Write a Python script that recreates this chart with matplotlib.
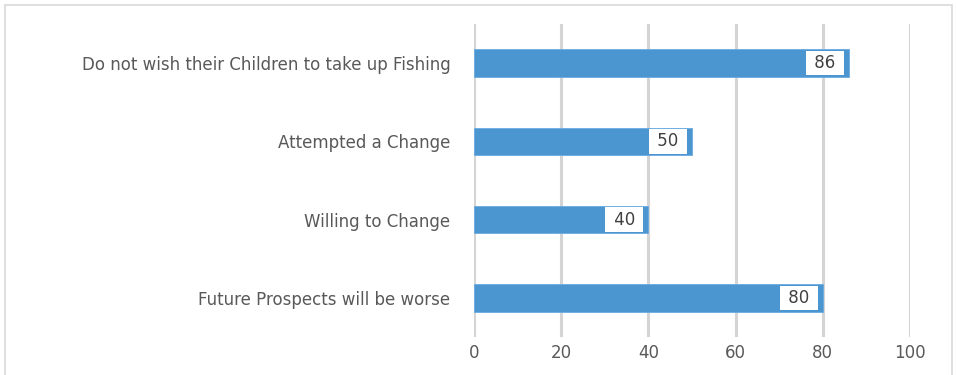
import matplotlib.pyplot as plt
from matplotlib.patches import Rectangle

# Survey responses (percent of respondents)
categories = ["Future Prospects will be worse", "Willing to Change",
              "Attempted a Change", "Do not wish their Children to take up Fishing"]
values = [80, 40, 50, 86]
ticks = [0, 20, 40, 60, 80, 100]

bar_color = "#4b96d1"
text_color = "#595959"
grid_color = "#d4d4d4"

fig = plt.figure(figsize=(9.56, 3.75), dpi=100)
ax = fig.add_axes([474 / 956, 0.101, (910 - 474) / 956, 0.835])

# light border around the chart area
fig.patches.append(Rectangle((5 / 956, -0.1), 947 / 956, 1.087, transform=fig.transFigure,
                             fill=False, edgecolor="#d9d9d9", linewidth=1.2))

ypos = range(len(categories))
ax.barh(ypos, values, height=0.35, color=bar_color, edgecolor="#6aaae0", linewidth=0.6, zorder=3)

for y, v in zip(ypos, values):
    ax.annotate(f" {v} ", xy=(v, y), xytext=(-6, 0), textcoords="offset points",
                ha="right", va="center", fontsize=12, color="#404040", zorder=4,
                bbox=dict(boxstyle="square,pad=0.2", facecolor="white", edgecolor="none"))

ax.set_xlim(0, 100)
ax.set_ylim(-0.5, len(categories) - 0.5)
ax.set_xticks(ticks)
ax.set_yticks(list(ypos))
ax.set_yticklabels(categories)
ax.tick_params(axis="both", length=0, labelsize=12, labelcolor=text_color)
ax.tick_params(axis="y", pad=17)
ax.tick_params(axis="x", pad=5)
ax.xaxis.grid(True, color=grid_color, linewidth=2.2, zorder=0)
ax.set_axisbelow(True)
for s in ax.spines.values():
    s.set_visible(False)

fig.savefig("out.png", dpi=100)
